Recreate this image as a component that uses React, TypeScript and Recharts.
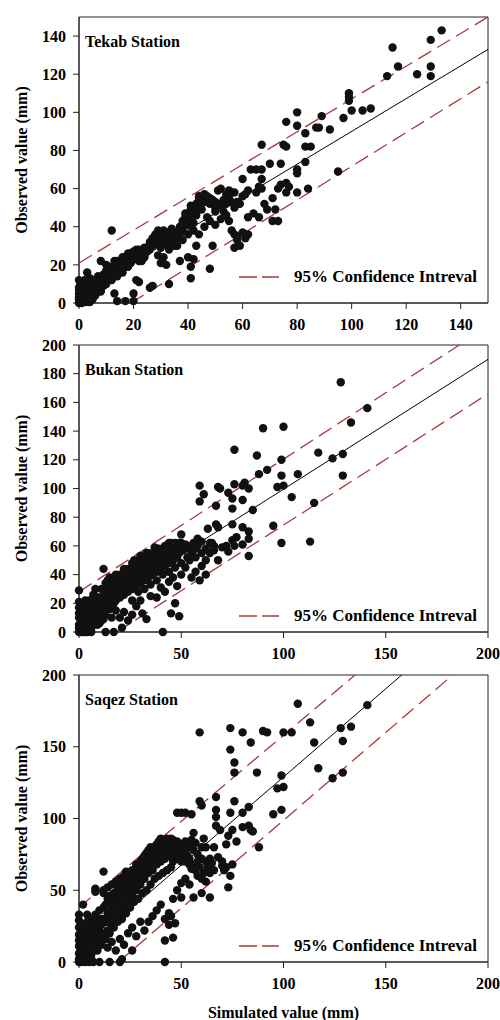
import React from 'react';
import { ScatterChart, Scatter, XAxis, YAxis, ReferenceLine, ReferenceArea, Label } from 'recharts';

const FONT = '"Liberation Serif", "Times New Roman", serif';
const RED = '#a83a3a';

const tekabPoints: [number, number][] = [
  [0, 0], [0.5, 1], [1, 3], [0, 5], [1.5, 7], [2, 9], [0.5, 10], [3, 3], [2, 5], [4, 6], [3, 8], [5, 9], [1, 1], [2.5, 0.5],
  [4, 1], [0, 3], [0, 8], [1, 11], [3, 11], [4, 0.5], [6, 10], [5, 12],
  [0, 2], [1, 5], [2, 3], [3, 1], [0, 7], [1, 9], [2, 7], [3, 5], [4, 3], [5, 2], [6, 4], [4, 9], [6, 12], [2, 11], [0, 12],
  [7, 8], [8, 6], [9, 9], [1, 0], [5, 7],
  [7, 10], [8, 12], [7, 14], [9, 15], [10, 17], [11, 14], [12, 18], [13, 20], [14, 19], [15, 22], [16, 21], [17, 24], [18, 23],
  [19, 21], [20, 25], [21, 26], [22, 24], [23, 27], [24, 25], [18, 19], [16, 18], [14, 16], [12, 14], [10, 12], [9, 11], [11, 19],
  [13, 22], [15, 18], [17, 20], [19, 26], [21, 28], [23, 22],
  [25, 29], [26, 32], [27, 34], [28, 36], [29, 35], [30, 37], [31, 36], [32, 34], [33, 37], [34, 36], [35, 35], [36, 34], [37, 36],
  [26, 28], [28, 31], [30, 33], [32, 31], [29, 38], [27, 30],
  [38, 43], [39, 45], [40, 47], [41, 49], [42, 50], [43, 48], [44, 51], [45, 54], [46, 55], [47, 53], [44, 56], [43, 46], [41, 44],
  [39, 41], [37, 40], [48, 52], [50, 53], [52, 51], [51, 59], [54, 57], [55, 55], [56, 53], [53, 48], [50, 48], [47, 45],
  [1, 6], [2, 12], [3, 6], [4, 13], [5, 4], [6, 7], [7, 12], [8, 8], [9, 13], [10, 15], [11, 17], [12, 16], [13, 17], [14, 22],
  [15, 20], [16, 24], [17, 22], [18, 26], [19, 24], [20, 27], [21, 23], [22, 28], [23, 25], [24, 29], [25, 27], [26, 31], [27, 33],
  [28, 33], [29, 37], [30, 35], [31, 38], [32, 37], [33, 35], [34, 39], [35, 37], [36, 37], [37, 38], [38, 40], [39, 44], [40, 45],
  [41, 47], [42, 47], [43, 52], [44, 54], [45, 52], [46, 57], [47, 56], [48, 55], [49, 54], [50, 50], [51, 52], [53, 54], [54, 52],
  [56, 58], [58, 53], [59, 52], [39, 47], [41, 51], [45, 49], [30, 31], [31, 33], [33, 33], [35, 33], [36, 36], [38, 38], [40, 41],
  [42, 42], [24, 24], [22, 22], [20, 23], [18, 21], [16, 16], [14, 14], [12, 12], [10, 10], [8, 9], [6, 8], [5, 5], [2, 2], [7, 6],
  [36, 30], [38, 33], [40, 36], [42, 38], [44, 36], [46, 40], [48, 43], [50, 41], [52, 44], [54, 46], [55, 43], [56, 38], [57, 36],
  [58, 33], [60, 37], [61, 34], [62, 36], [59, 30], [57, 29], [58, 35], [34, 31], [30, 29], [31, 24], [29, 25], [33, 28], [35, 30],
  [21, 12], [22, 11], [26, 8], [27, 9], [30, 21], [32, 20], [33, 10], [37, 22], [40, 24], [41, 19], [41, 13], [42, 23], [43, 30],
  [48, 18], [49, 30], [20, 1], [17, 1], [14, 1], [13, 5], [3, 16], [8, 22], [12, 38], [10, 20], [20, 5],
  [60, 65], [62, 59], [63, 70], [65, 70], [67, 70], [65, 58], [67, 60], [68, 52], [69, 49], [71, 55], [71, 43], [73, 43], [72, 49],
  [70, 73], [67, 65], [66, 45], [64, 47], [62, 45], [57, 50], [57, 58], [55, 59], [52, 60], [60, 56], [61, 57], [66, 61], [73, 60],
  [74, 62], [76, 58], [76, 63], [77, 61], [80, 58], [84, 60], [67, 83], [75, 83], [76, 82], [74, 73], [80, 70], [80, 68], [83, 74],
  [83, 82], [85, 82], [76, 95], [80, 100], [80, 93], [83, 89], [87, 92], [88, 92], [89, 98], [92, 91], [95, 69], [97, 97],
  [99, 110], [99, 108], [99, 106], [100, 101], [104, 101], [107, 102], [113, 119], [115, 134], [117, 124], [124, 120],
  [129, 124], [129, 119], [129, 138], [133, 143],
];

const bukanPoints: [number, number][] = [
  [0, 0], [1, 2], [0, 5], [2, 8], [1, 11], [3, 4], [4, 10], [5, 6], [2, 14], [0, 17], [6, 13], [5, 1], [3, 0], [7, 9], [8, 16],
  [4, 19], [9, 12], [1, 20], [6, 18], [0, 10], [2, 0], [0, 29], [8, 30], [3, 22],
  [0, 3], [1, 8], [2, 5], [3, 9], [4, 6], [5, 11], [6, 3], [7, 14], [8, 7], [9, 10], [10, 6], [11, 12], [12, 9], [0, 13], [1, 15],
  [3, 19], [2, 11], [4, 13], [6, 16], [8, 19], [10, 17], [12, 15], [14, 18], [4, 3], [7, 5], [0, 21], [1, 0], [6, 0],
  [10, 20], [11, 24], [12, 18], [13, 26], [14, 22], [15, 28], [16, 25], [17, 30], [18, 27], [19, 32], [20, 29], [21, 34], [22, 31],
  [23, 36], [24, 33], [25, 38], [26, 35], [27, 40], [28, 37], [29, 42], [30, 39], [31, 44], [32, 41], [33, 46], [34, 43], [35, 48],
  [36, 45], [37, 50], [38, 47], [39, 52], [40, 49], [41, 54], [42, 51], [43, 56], [44, 53], [45, 58], [46, 55], [47, 60], [48, 57],
  [49, 62], [50, 59], [52, 61], [54, 58], [56, 62], [58, 60], [60, 63], [12, 44], [18, 38], [27, 50], [33, 51], [37, 59], [44, 62],
  [46, 60], [15, 16], [17, 20], [20, 24], [22, 26], [24, 28], [26, 30], [28, 32], [30, 34], [32, 36], [34, 38], [36, 40], [38, 42],
  [40, 44], [42, 46], [44, 48], [46, 50], [48, 52], [14, 32], [16, 36], [20, 40], [24, 44], [28, 48], [32, 49], [36, 52], [40, 56],
  [13, 12], [11, 8], [9, 5],
  [1, 5], [2, 16], [3, 13], [4, 16], [5, 15], [6, 9], [7, 21], [8, 12], [9, 18], [10, 24], [10, 14], [11, 19], [12, 22], [13, 30],
  [14, 27], [15, 22], [15, 33], [16, 31], [17, 26], [18, 33], [18, 22], [19, 28], [20, 35], [20, 26], [21, 30], [22, 37], [23, 30],
  [24, 38], [25, 34], [25, 42], [26, 39], [27, 34], [28, 43], [29, 38], [30, 45], [30, 35], [31, 40], [32, 46], [33, 40], [34, 48],
  [34, 40], [35, 44], [36, 50], [37, 44], [38, 52], [39, 46], [40, 52], [41, 48], [42, 55], [43, 50], [44, 57], [45, 52], [46, 58],
  [47, 54], [48, 60], [49, 55], [50, 62], [51, 57], [53, 60], [55, 60], [57, 58], [45, 62], [42, 60], [39, 58], [36, 55], [33, 55],
  [30, 50], [27, 46], [24, 42], [22, 40], [19, 36], [17, 35], [15, 38], [13, 34], [11, 30], [9, 24], [7, 26], [5, 22], [3, 17],
  [14, 36], [18, 40], [22, 44], [26, 48], [30, 53], [34, 55], [38, 57], [20, 30], [23, 40], [27, 43], [31, 48], [35, 52], [39, 55],
  [43, 59], [47, 62], [51, 60],
  [16, 10], [18, 15], [26, 22], [29, 28], [32, 30], [35, 33], [38, 36], [41, 40], [44, 42], [47, 45], [50, 48], [53, 52], [57, 52],
  [60, 55], [62, 58], [64, 62], [66, 60],
  [20, 10], [22, 14], [24, 8], [26, 12], [28, 18], [30, 22], [31, 13], [33, 9], [35, 25], [38, 24], [40, 31], [42, 28], [44, 35],
  [46, 38], [48, 32], [47, 20], [49, 11], [45, 13], [41, 0], [21, 3], [17, 0], [13, 0], [4, 0], [50, 40], [52, 45], [54, 50],
  [55, 38], [57, 42], [59, 36], [60, 46], [62, 40], [62, 50], [64, 55], [66, 57], [68, 50], [70, 59], [72, 60], [73, 56], [75, 64],
  [76, 60], [77, 66], [80, 61], [83, 53], [83, 65], [83, 70], [80, 73],
  [50, 68], [55, 55], [58, 65], [59, 91], [59, 102], [61, 96], [63, 72], [65, 62], [67, 88], [68, 101], [69, 100], [67, 75],
  [68, 73], [73, 97], [75, 93], [75, 86], [75, 75], [76, 103], [76, 127], [80, 102], [80, 92], [81, 104], [83, 100], [85, 85],
  [87, 123], [88, 110], [90, 142], [92, 113], [95, 74], [97, 101], [99, 120], [99, 109], [99, 62], [100, 102], [100, 143],
  [104, 94], [107, 110], [113, 63], [115, 90], [117, 125], [124, 121], [129, 124], [129, 109], [128, 174], [133, 146], [141, 156],
];

const saqezPoints: [number, number][] = [
  [0, 0], [1, 3], [0, 6], [2, 10], [1, 14], [3, 2], [4, 8], [5, 12], [2, 18], [0, 19], [6, 5], [5, 0], [3, 0], [7, 15], [8, 20],
  [4, 22], [0, 11], [1, 24], [6, 25], [0, 29], [0, 33], [4, 33], [8, 33], [2, 40], [7, 0],
  [0, 2], [1, 6], [2, 8], [3, 11], [4, 4], [5, 16], [6, 10], [7, 19], [8, 14], [9, 22], [10, 17], [11, 30], [0, 15], [1, 19],
  [2, 23], [3, 26], [4, 28], [5, 30], [6, 29], [0, 24], [9, 8], [11, 12], [1, 0], [6, 2],
  [9, 18], [10, 22], [11, 26], [12, 30], [13, 28], [14, 34], [15, 32], [16, 38], [17, 36], [18, 42], [19, 40], [20, 46], [21, 44],
  [22, 50], [23, 48], [24, 54], [25, 52], [26, 58], [27, 56], [28, 62], [29, 60], [30, 66], [31, 64], [32, 68], [33, 66], [34, 72],
  [35, 70], [36, 75], [37, 73], [38, 78], [39, 76], [40, 80], [41, 78], [42, 82], [43, 80], [44, 84], [45, 82], [46, 85], [47, 83],
  [48, 80], [49, 78], [50, 82], [52, 84], [54, 80], [55, 85], [56, 78], [57, 83],
  [12, 50], [12, 48], [14, 52], [16, 54], [18, 56], [20, 58], [22, 55], [8, 51], [8, 49], [12, 63], [23, 63], [28, 66], [30, 64],
  [34, 70], [10, 14], [12, 18], [14, 22], [16, 26], [18, 30], [20, 34], [22, 38], [24, 42], [26, 46], [28, 50], [30, 54], [32, 58],
  [34, 62], [36, 64], [38, 68], [40, 70], [42, 72], [44, 74], [46, 70], [48, 72], [50, 74], [52, 70], [54, 72], [56, 68], [58, 70],
  [60, 72],
  [1, 8], [2, 4], [3, 14], [4, 16], [5, 20], [6, 14], [7, 24], [8, 10], [8, 27], [9, 30], [10, 28], [10, 36], [11, 20], [12, 38],
  [13, 40], [14, 44], [14, 28], [15, 46], [16, 44], [16, 32], [17, 48], [18, 48], [18, 36], [19, 52], [20, 52], [20, 40], [21, 54],
  [22, 60], [22, 44], [23, 56], [24, 62], [24, 46], [25, 58], [26, 64], [26, 50], [27, 62], [28, 68], [28, 54], [29, 66], [30, 70],
  [30, 58], [31, 72], [32, 74], [32, 62], [33, 76], [34, 78], [34, 66], [35, 80], [36, 68], [37, 80], [38, 82], [38, 72], [39, 84],
  [40, 86], [40, 74], [41, 85], [42, 76], [43, 86], [44, 78], [45, 86], [46, 76], [47, 79], [48, 76], [49, 72], [50, 70], [51, 76],
  [52, 78], [53, 74], [54, 68], [55, 65], [57, 64], [58, 75], [59, 66], [60, 80], [61, 62], [62, 70], [63, 66], [64, 72], [65, 69],
  [68, 73], [70, 67], [71, 64], [73, 88], [72, 82], [13, 16], [15, 20], [17, 24], [19, 28], [21, 30], [23, 34], [25, 38], [27, 42],
  [29, 44], [31, 48], [33, 50], [35, 54], [37, 58], [39, 60], [41, 62], [43, 64], [45, 66],
  [15, 40], [17, 42], [19, 45], [21, 48], [23, 52], [25, 55], [27, 58], [29, 62], [31, 68], [33, 70], [35, 74], [37, 76], [39, 80],
  [41, 82], [43, 77], [20, 50], [24, 57], [28, 58], [32, 64], [36, 70], [40, 77], [44, 80], [48, 84], [52, 80], [55, 80], [50, 78],
  [46, 80],
  [14, 10], [16, 14], [18, 8], [20, 16], [22, 12], [24, 20], [26, 24], [28, 18], [30, 28], [32, 22], [34, 28], [36, 32], [38, 36],
  [40, 40], [42, 30], [44, 34], [46, 44], [48, 50], [50, 55], [52, 58], [54, 54], [58, 60], [60, 58], [62, 56], [47, 27], [46, 17],
  [42, 15], [42, 0], [21, 2], [20, 0], [15, 0], [10, 0], [26, 8], [44, 26], [45, 32], [50, 45], [56, 45], [60, 48], [64, 45],
  [48, 104], [50, 104], [52, 104], [55, 103], [56, 90], [59, 112], [60, 109], [59, 160], [61, 86], [62, 80], [64, 62], [66, 64],
  [66, 80], [67, 106], [67, 101], [67, 95], [67, 115], [69, 92], [70, 70], [72, 66], [73, 52], [74, 60], [75, 68], [74, 104],
  [75, 92], [74, 163], [74, 148], [76, 139], [76, 132], [76, 112], [77, 84], [80, 104], [80, 94], [80, 160], [83, 108], [83, 95],
  [84, 92], [85, 91], [84, 153], [87, 132], [88, 80], [90, 161], [92, 160], [95, 103], [97, 121], [99, 130], [99, 106], [100, 122],
  [100, 160], [104, 160], [107, 180], [113, 167], [115, 153], [117, 135], [124, 128], [128, 163], [129, 154], [129, 132],
  [133, 164], [141, 179],
];

// line end points [sim, obs]
const tekabFit: [number, number][] = [[0, 4], [150, 133]];
const tekabUpper: [number, number][] = [[0, 21], [150, 150]];
const tekabLower: [number, number][] = [[19, 0], [150, 116]];

const bukanFit: [number, number][] = [[0, 9], [200, 190]];
const bukanUpper: [number, number][] = [[0, 28], [186, 200]];
const bukanLower: [number, number][] = [[18.5, 0], [200, 166]];

const saqezFit: [number, number][] = [[0, 6], [157.8, 200]];
const saqezUpper: [number, number][] = [[0, 38], [135, 200]];
const saqezLower: [number, number][] = [[19.3, 0], [182.7, 200]];

const tekabXTicks = [0, 20, 40, 60, 80, 100, 120, 140];
const tekabYTicks = [0, 20, 40, 60, 80, 100, 120, 140];
const bukanXTicks = [0, 50, 100, 150, 200];
const bukanYTicks = [0, 20, 40, 60, 80, 100, 120, 140, 160, 180, 200];
const saqezXTicks = [0, 50, 100, 150, 200];
const saqezYTicks = [0, 50, 100, 150, 200];

const legendText = '95% Confidence Intreval';

const toXY = (arr: [number, number][]) => arr.map(([x, y]) => ({ x, y }));

const Dot = (props: any) => <circle cx={props.cx} cy={props.cy} r={4.2} fill="#111" />;

const tickStyle = { fill: '#000', fontSize: 16, fontWeight: 'bold', fontFamily: FONT };

interface PanelProps {
  title: string;
  points: [number, number][];
  fit: [number, number][];
  upper: [number, number][];
  lower: [number, number][];
  xMax: number;
  yMax: number;
  xTicks: number[];
  yTicks: number[];
  top: number;
  height: number;
  marginTop: number;
  xAxisHeight: number;
  legendY: number;
  xLabel?: string;
}

function Panel(p: PanelProps) {
  const plotTop = p.top + p.marginTop;
  return (
    <>
      <div style={{ position: 'absolute', left: 0, top: p.top }}>
        <ScatterChart width={500} height={p.height} margin={{ top: p.marginTop, right: 12, bottom: 0, left: 0 }}>
          <XAxis
            type="number"
            dataKey="x"
            domain={[0, p.xMax]}
            ticks={p.xTicks}
            interval={0}
            height={p.xAxisHeight}
            tick={tickStyle}
            tickSize={6}
            tickMargin={10}
            stroke="#222"
          >
            {p.xLabel && (
              <Label
                content={(lp: any) => {
                  const vb = lp.viewBox;
                  return (
                    <text
                      x={vb.x + vb.width / 2}
                      y={vb.y + 50}
                      textAnchor="middle"
                      dominantBaseline="central"
                      fontFamily={FONT}
                      fontWeight="bold"
                      fontSize={16}
                      fill="#000"
                    >
                      {p.xLabel}
                    </text>
                  );
                }}
              />
            )}
          </XAxis>
          <YAxis
            type="number"
            dataKey="y"
            domain={[0, p.yMax]}
            ticks={p.yTicks}
            interval={0}
            width={79}
            tick={tickStyle}
            tickSize={6}
            tickMargin={7}
            stroke="#222"
          >
            <Label
              content={(lp: any) => {
                const vb = lp.viewBox;
                const cx = vb.x + 21;
                const cy = vb.y + vb.height / 2;
                return (
                  <text
                    x={cx}
                    y={cy}
                    transform={`rotate(-90 ${cx} ${cy})`}
                    textAnchor="middle"
                    dominantBaseline="central"
                    fontFamily={FONT}
                    fontWeight="bold"
                    fontSize={16}
                    fill="#000"
                  >
                    Observed value (mm)
                  </text>
                );
              }}
            />
          </YAxis>
          <ReferenceArea x1={0} x2={p.xMax} y1={0} y2={p.yMax} fill="none" stroke="#222" strokeWidth={1} />
          <ReferenceLine segment={toXY(p.upper)} stroke={RED} strokeWidth={1.3} strokeDasharray="15 7" />
          <ReferenceLine segment={toXY(p.lower)} stroke={RED} strokeWidth={1.3} strokeDasharray="15 7" />
          <ReferenceLine segment={toXY(p.fit)} stroke="#000" strokeWidth={1} />
          <Scatter data={toXY(p.points)} shape={Dot} isAnimationActive={false} />
        </ScatterChart>
      </div>
      <div
        style={{
          position: 'absolute',
          left: 85,
          top: plotTop + 25 - 10,
          fontFamily: FONT,
          fontWeight: 'bold',
          fontSize: 16,
          lineHeight: '20px',
          color: '#000',
          whiteSpace: 'nowrap',
        }}
      >
        {p.title}
      </div>
      <div
        style={{
          position: 'absolute',
          left: 239,
          top: p.legendY - 10,
          height: 20,
          display: 'flex',
          alignItems: 'center',
          fontFamily: FONT,
          fontWeight: 'bold',
          fontSize: 17,
          color: '#000',
          whiteSpace: 'nowrap',
        }}
      >
        <svg width={40} height={4} style={{ marginRight: 15 }}>
          <line x1={0} y1={2} x2={40} y2={2} stroke={RED} strokeWidth={1.3} strokeDasharray="18 5" />
        </svg>
        {legendText}
      </div>
    </>
  );
}

export default function App() {
  return (
    <div style={{ position: 'absolute', left: 0, top: 0, width: 500, height: 1020, background: '#fff', overflow: 'hidden' }}>
      <Panel
        title="Tekab Station"
        points={tekabPoints}
        fit={tekabFit}
        upper={tekabUpper}
        lower={tekabLower}
        xMax={150}
        yMax={150}
        xTicks={tekabXTicks}
        yTicks={tekabYTicks}
        top={0}
        height={342}
        marginTop={17}
        xAxisHeight={39}
        legendY={277}
      />
      <Panel
        title="Bukan Station"
        points={bukanPoints}
        fit={bukanFit}
        upper={bukanUpper}
        lower={bukanLower}
        xMax={200}
        yMax={200}
        xTicks={bukanXTicks}
        yTicks={bukanYTicks}
        top={330}
        height={342}
        marginTop={15}
        xAxisHeight={40}
        legendY={616}
      />
      <Panel
        title="Saqez Station"
        points={saqezPoints}
        fit={saqezFit}
        upper={saqezUpper}
        lower={saqezLower}
        xMax={200}
        yMax={200}
        xTicks={saqezXTicks}
        yTicks={saqezYTicks}
        top={660}
        height={360}
        marginTop={15}
        xAxisHeight={58}
        legendY={946}
        xLabel="Simulated value (mm)"
      />
    </div>
  );
}
